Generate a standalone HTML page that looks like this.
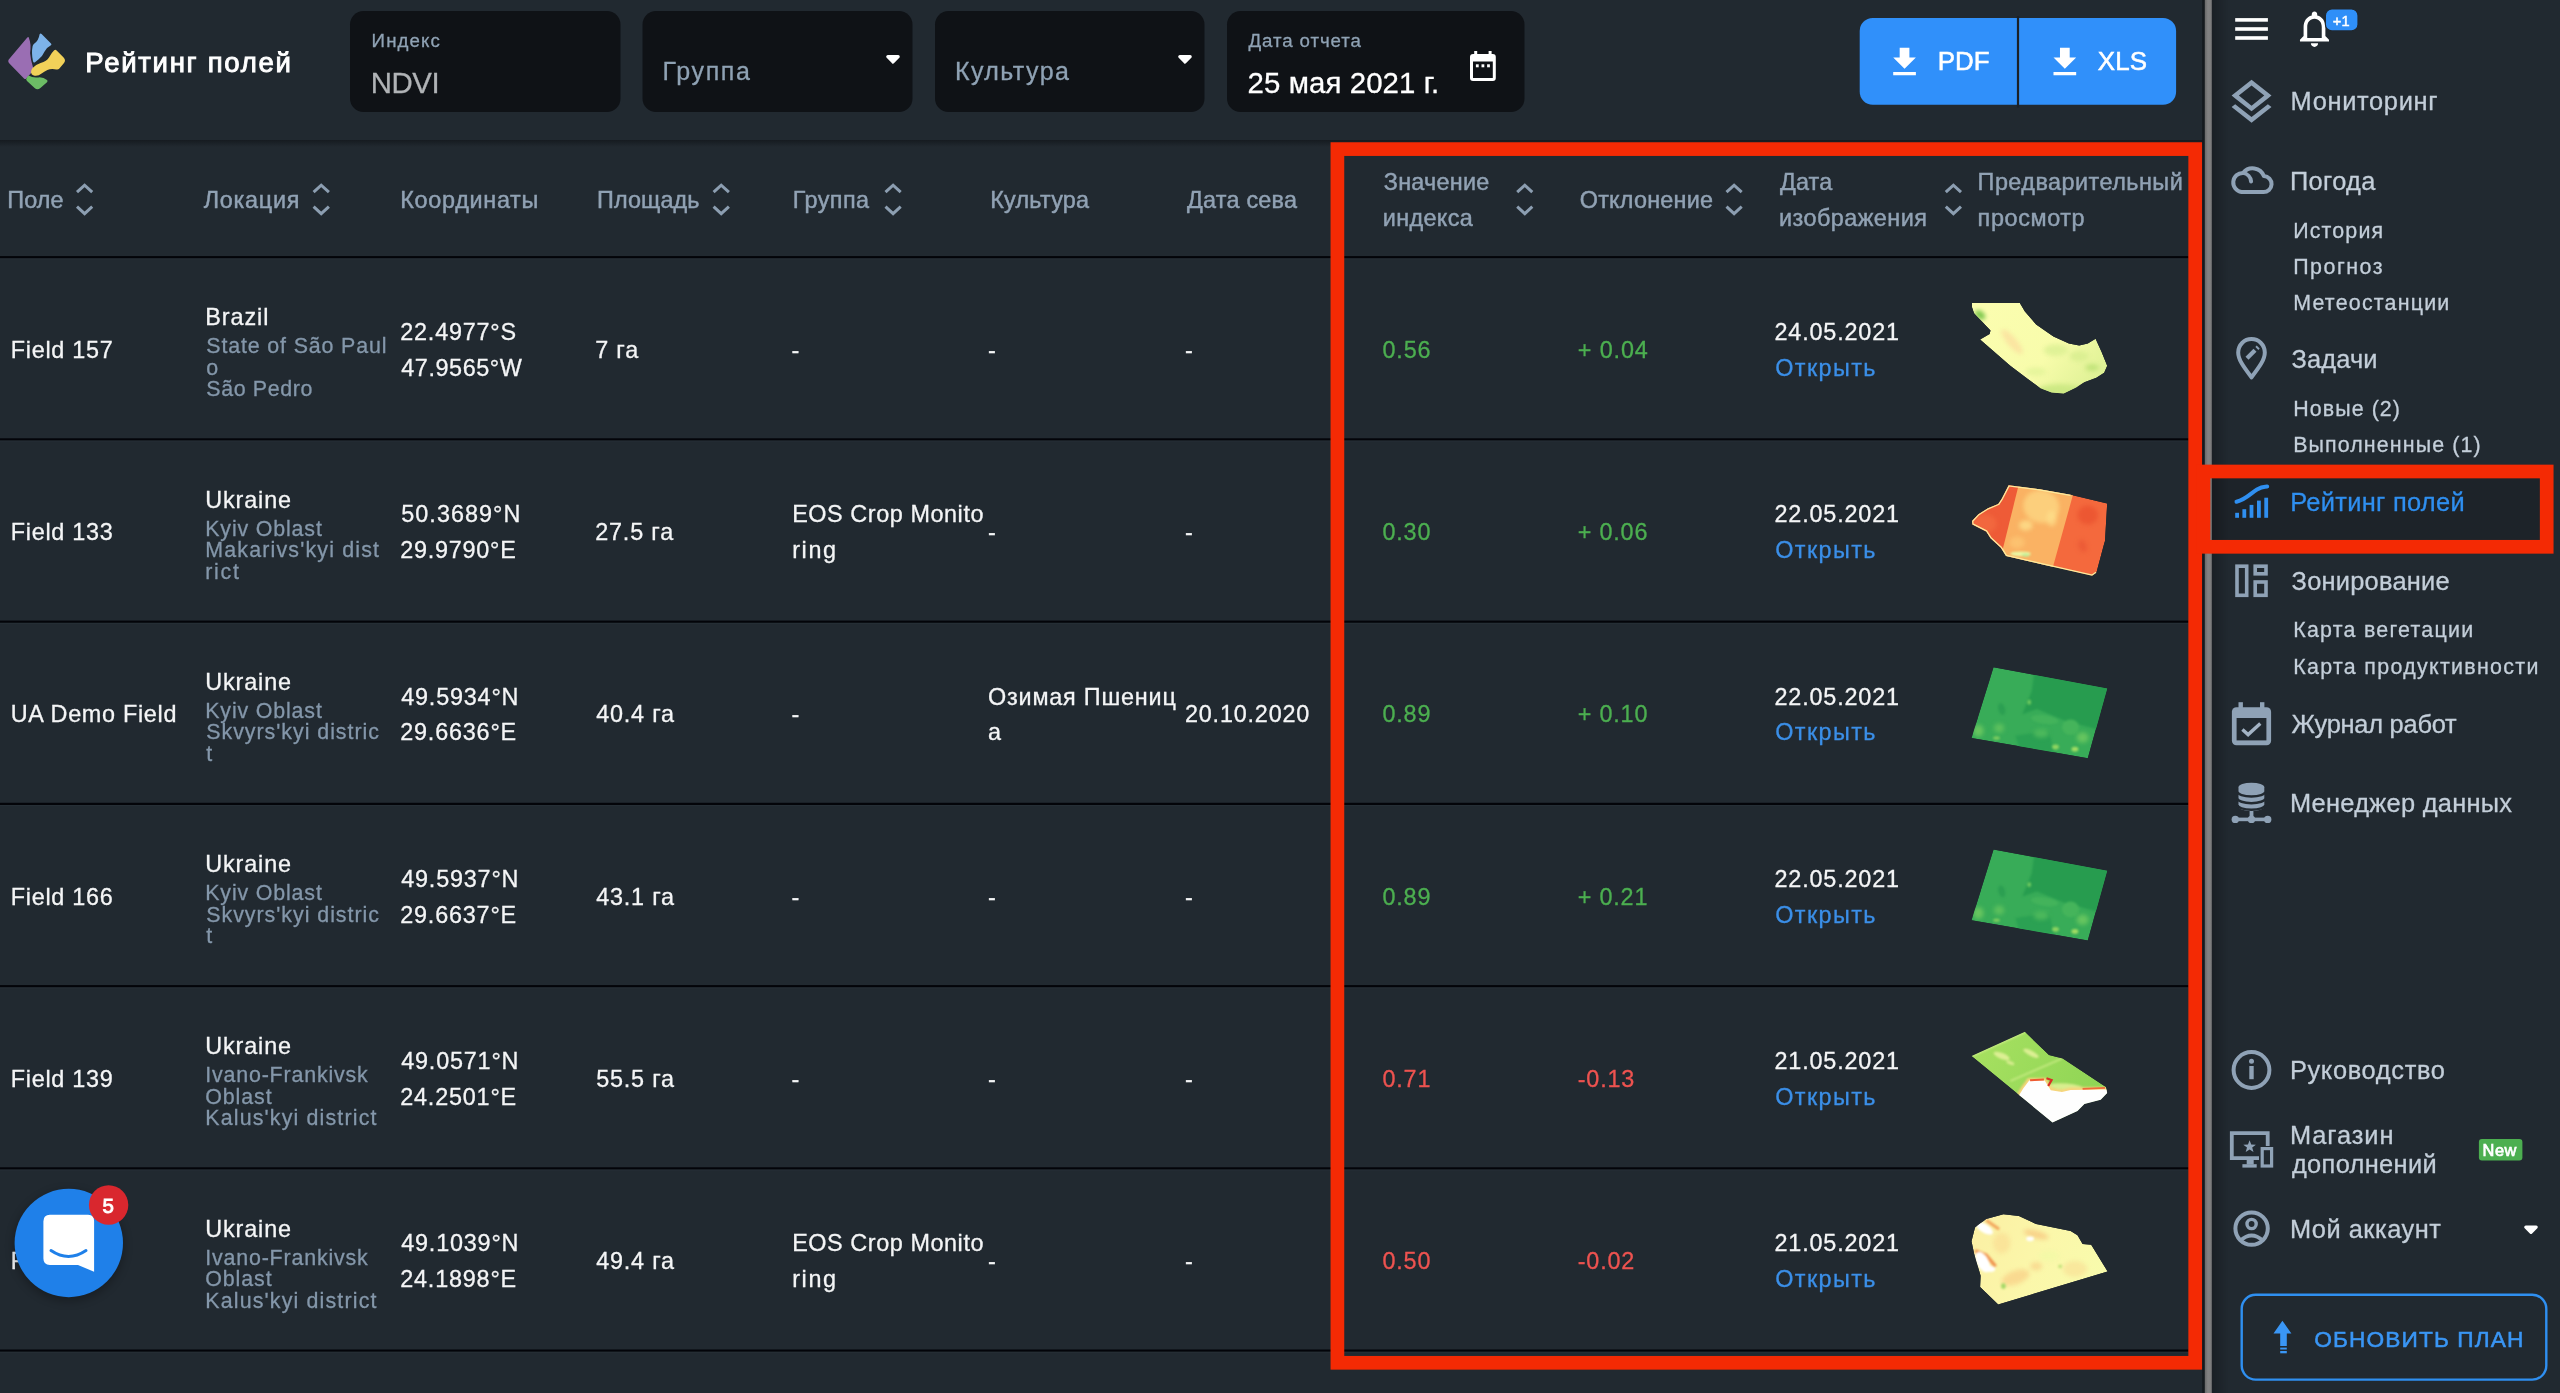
<!DOCTYPE html>
<html lang="ru"><head><meta charset="utf-8"><title>Рейтинг полей</title>
<style>
html,body{margin:0;padding:0}
body{width:2560px;height:1393px;overflow:hidden;background:#212930;font-family:"Liberation Sans",sans-serif;position:relative}
.t{position:absolute;white-space:pre;line-height:1;display:block}
.L{position:absolute;left:0;top:0;width:2560px;height:1393px;will-change:transform}
svg{position:absolute;overflow:visible}
</style></head>
<body>
<svg width="2560" height="1393" viewBox="0 0 2560 1393" style="left:0;top:0">
<defs><linearGradient id="hs" x1="0" y1="0" x2="0" y2="1"><stop offset="0" stop-color="#151a1f" stop-opacity=".95"/><stop offset="1" stop-color="#151a1f" stop-opacity="0"/></linearGradient></defs>
<rect x="0" y="140" width="2203" height="7" fill="url(#hs)"/>
<rect x="2211.8" y="470" width="338" height="78" fill="#1d2329"/>
<rect x="350" y="11" width="270.5" height="101" rx="13.5" fill="#0f1216"/>
<rect x="642.5" y="11" width="270.0" height="101" rx="13.5" fill="#0f1216"/>
<rect x="935" y="11" width="269.5" height="101" rx="13.5" fill="#0f1216"/>
<rect x="1227" y="11" width="297.5" height="101" rx="13.5" fill="#0f1216"/>
<rect x="0" y="256.1" width="2188.5" height="2.2" fill="#030409"/><rect x="0" y="258.3" width="2188.5" height="1.2" fill="#283038" opacity=".7"/>
<rect x="0" y="438.3" width="2188.5" height="2.2" fill="#030409"/><rect x="0" y="440.5" width="2188.5" height="1.2" fill="#283038" opacity=".7"/>
<rect x="0" y="620.6" width="2188.5" height="2.2" fill="#030409"/><rect x="0" y="622.8" width="2188.5" height="1.2" fill="#283038" opacity=".7"/>
<rect x="0" y="802.8" width="2188.5" height="2.2" fill="#030409"/><rect x="0" y="805.0" width="2188.5" height="1.2" fill="#283038" opacity=".7"/>
<rect x="0" y="985.1" width="2188.5" height="2.2" fill="#030409"/><rect x="0" y="987.3" width="2188.5" height="1.2" fill="#283038" opacity=".7"/>
<rect x="0" y="1167.3" width="2188.5" height="2.2" fill="#030409"/><rect x="0" y="1169.5" width="2188.5" height="1.2" fill="#283038" opacity=".7"/>
<rect x="0" y="1349.5" width="2188.5" height="2.2" fill="#030409"/><rect x="0" y="1351.7" width="2188.5" height="1.2" fill="#283038" opacity=".7"/>
<rect x="1859.7" y="18" width="316.4" height="86.8" rx="13" fill="#3090fa"/>
<rect x="2016.9" y="16" width="2.2" height="91.5" fill="#1b2127"/>
<path transform="translate(1885.1 42.9) scale(1.62)" fill="#fff" d="M19 9h-4V3H9v6H5l7 7 7-7zM5 18v2h14v-2H5z"/>
<path transform="translate(2045.4 42.9) scale(1.62)" fill="#fff" d="M19 9h-4V3H9v6H5l7 7 7-7zM5 18v2h14v-2H5z"/>
<path d="M887.8 56.7 H898.2 L893 62 Z" fill="#fff" stroke="#fff" stroke-width="3.2" stroke-linejoin="round"/>
<path d="M1179.8 56.7 H1190.2 L1185 62 Z" fill="#fff" stroke="#fff" stroke-width="3.2" stroke-linejoin="round"/>
<path d="M2525.8 1227.1 H2536.2 L2531 1232.3 Z" fill="#fff" stroke="#fff" stroke-width="3.2" stroke-linejoin="round"/>
<g fill="#fff"><rect x="1470" y="54" width="25.8" height="27" rx="3"/><rect x="1474.2" y="51" width="3" height="6"/><rect x="1488.6" y="51" width="3" height="6"/></g>
<rect x="1473" y="61.5" width="19.8" height="16.5" fill="#0f1216"/>
<rect x="1475.8999999999999" y="64.3" width="2.8" height="3" fill="#fff"/>
<rect x="1481.5" y="64.3" width="2.8" height="3" fill="#fff"/>
<rect x="1487.1" y="64.3" width="2.8" height="3" fill="#fff"/>
<path d="M9.6 58.6 L27.3 37.6 Q28.6 36.2 29 38.2 Q31.4 44 30.1 53 Q30.6 60 33.2 68 Q33.8 69.8 32.6 71.2 L26.3 78.5 Q25.2 79.6 24 78.4 L9.4 63.6 Q7 61 9.6 58.6 Z" fill="#9a6eb3"/>
<path d="M39.6 34.2 Q40.4 32.8 41.6 34 L51 43.6 Q52.2 44.8 50.6 45.6 Q46.5 47.6 44.6 51.6 Q42.4 56.6 38.4 59.6 L35 62.2 Q33.4 63.2 33 61.2 Q31.2 53 32.6 46.2 Q32.9 44.6 34.4 43.6 Q38.6 40.4 39.6 34.2 Z" fill="#7db3e9"/>
<path d="M54.2 50.3 Q55.4 49.2 56.6 50.4 L63.6 57.4 Q66.4 60.4 63.6 63.6 L59.4 68.4 Q58.2 69.8 56.4 69.4 Q51 68.2 47.4 70 Q44 71.6 41.6 73.6 Q38 76.6 33.8 75.6 Q31.4 74.9 31 72.6 Q30.6 70.4 32.6 68 Q35.6 64.6 40.6 63 Q46.8 61 49 57.4 Q51.2 53.2 54.2 50.3 Z" fill="#f1d159"/>
<path d="M28.6 75.6 Q33 78.2 38.4 77.4 Q43.4 77 47 80 Q48.2 81 47 82.2 L40.4 88 Q37.4 90.4 34.6 88 L27 81 Q25.4 79.4 26.8 77.4 Z" fill="#6cbc65"/>
<g fill="none" stroke="#8c9eb1" stroke-width="3">
<path d="M77.0 192.2 L84.6 185.2 L92.2 192.2" /><path d="M77.0 206.6 L84.6 213.6 L92.2 206.6" />
<path d="M313.6 192.2 L321.2 185.2 L328.9 192.2" /><path d="M313.6 206.6 L321.2 213.6 L328.9 206.6" />
<path d="M713.6 192.2 L721.2 185.2 L728.9 192.2" /><path d="M713.6 206.6 L721.2 213.6 L728.9 206.6" />
<path d="M885.5 192.2 L893.1 185.2 L900.7 192.2" /><path d="M885.5 206.6 L893.1 213.6 L900.7 206.6" />
<path d="M1517.2 192.2 L1524.8 185.2 L1532.3 192.2" /><path d="M1517.2 206.6 L1524.8 213.6 L1532.3 206.6" />
<path d="M1726.5 192.2 L1734.1 185.2 L1741.7 192.2" /><path d="M1726.5 206.6 L1734.1 213.6 L1741.7 206.6" />
<path d="M1945.8 192.2 L1953.4 185.2 L1961.0 192.2" /><path d="M1945.8 206.6 L1953.4 213.6 L1961.0 206.6" />
</g>
<defs><filter id="b2" color-interpolation-filters="sRGB" x="-20%" y="-20%" width="140%" height="140%"><feGaussianBlur stdDeviation="2"/></filter><filter id="b1" color-interpolation-filters="sRGB" x="-20%" y="-20%" width="140%" height="140%"><feGaussianBlur stdDeviation="1"/></filter><filter id="b05" color-interpolation-filters="sRGB" x="-20%" y="-20%" width="140%" height="140%"><feGaussianBlur stdDeviation="0.6"/></filter><linearGradient id="g1" gradientUnits="userSpaceOnUse" x1="1985" y1="310" x2="2095" y2="395"><stop offset="0" stop-color="#fbfdaf"/><stop offset="0.55" stop-color="#f8fcab"/><stop offset="1" stop-color="#dbf092"/></linearGradient><clipPath id="c1"><polygon points="1972.0,302.9 2019.8,302.9 2024.9,311.5 2036.1,324.5 2053.4,336.5 2068.9,343.4 2079.2,345.6 2087.8,343.4 2095.6,338.7 2101.6,352.0 2107.2,365.8 2104.2,372.7 2096.4,377.8 2084.4,382.2 2076.6,387.3 2063.7,393.4 2051.6,392.5 2040.4,388.2 2027.5,378.7 2010.3,365.8 1980.1,339.5 1989.6,333.9 1990.5,330.5 1974.1,313.3 1972.0,307.2"/></clipPath><clipPath id="c2"><polygon points="2008.6,485.3 2039.6,489.2 2070.6,494.8 2107.2,503.4 2105.0,540.9 2104.2,543.5 2096.4,572.8 2092.1,575.8 2044.7,565.0 2006.0,556.0 2000.8,547.8 1990.5,538.3 1986.2,531.4 1972.4,524.5 1972.0,521.1 1978.4,514.2 1987.9,508.2 1998.2,503.9 2001.7,498.7"/></clipPath><clipPath id="c30"><polygon points="1993.5,667.3 2107.2,688.5 2087.8,758.2 1971.5,738.0"/></clipPath><clipPath id="c31"><polygon points="1993.5,849.6 2107.2,870.7 2087.8,940.5 1971.5,920.2"/></clipPath><clipPath id="c5"><polygon points="1971.5,1055.9 2024.9,1031.8 2049.0,1055.0 2062.8,1058.5 2105.9,1086.9 2107.2,1092.9 2100.7,1099.8 2084.4,1104.1 2077.5,1111.0 2052.5,1122.6"/></clipPath><linearGradient id="g5" gradientUnits="userSpaceOnUse" x1="1980" y1="1040" x2="2100" y2="1095"><stop offset="0" stop-color="#a6e060"/><stop offset="1" stop-color="#8fd555"/></linearGradient><clipPath id="c6"><polygon points="2003.4,1214.2 2018.9,1215.9 2036.1,1224.1 2070.6,1231.0 2077.5,1235.3 2082.6,1243.9 2091.2,1244.8 2107.6,1271.5 1998.2,1304.6 1980.1,1287.0 1980.6,1275.8 1974.1,1253.4 1971.5,1241.3 1975.0,1227.6 1986.2,1218.9"/></clipPath><linearGradient id="g6" gradientUnits="userSpaceOnUse" x1="1975" y1="1230" x2="2100" y2="1290"><stop offset="0" stop-color="#fbf0a4"/><stop offset="0.5" stop-color="#fbf7aa"/><stop offset="1" stop-color="#f8fbac"/></linearGradient></defs><g clip-path="url(#c1)"><polygon points="1972.0,302.9 2019.8,302.9 2024.9,311.5 2036.1,324.5 2053.4,336.5 2068.9,343.4 2079.2,345.6 2087.8,343.4 2095.6,338.7 2101.6,352.0 2107.2,365.8 2104.2,372.7 2096.4,377.8 2084.4,382.2 2076.6,387.3 2063.7,393.4 2051.6,392.5 2040.4,388.2 2027.5,378.7 2010.3,365.8 1980.1,339.5 1989.6,333.9 1990.5,330.5 1974.1,313.3 1972.0,307.2" fill="url(#g1)"/><g filter="url(#b2)"><ellipse cx="1980.1" cy="315.0" rx="6.0" ry="3.9" fill="#7fc84e" transform="rotate(40 1980.1 315.0)"/><ellipse cx="2012.0" cy="341.7" rx="15.5" ry="4.7" fill="#fbe2a0" transform="rotate(50 2012.0 341.7)" opacity="0.9"/><ellipse cx="2055.9" cy="350.3" rx="12.1" ry="6.0" fill="#e0f297"/><ellipse cx="2079.2" cy="356.3" rx="9.5" ry="5.2" fill="#dbef92"/><ellipse cx="2092.1" cy="367.5" rx="6.9" ry="3.4" fill="#c2e47b"/><ellipse cx="2060.2" cy="389.9" rx="22.4" ry="6.0" fill="#cde984"/><ellipse cx="2036.1" cy="371.8" rx="10.3" ry="4.3" fill="#e6f59c"/></g></g><g clip-path="url(#c2)"><polygon points="2008.6,485.3 2039.6,489.2 2070.6,494.8 2107.2,503.4 2105.0,540.9 2104.2,543.5 2096.4,572.8 2092.1,575.8 2044.7,565.0 2006.0,556.0 2000.8,547.8 1990.5,538.3 1986.2,531.4 1972.4,524.5 1972.0,521.1 1978.4,514.2 1987.9,508.2 1998.2,503.9 2001.7,498.7" fill="#f4693d"/><g filter="url(#b05)"><polygon points="1967.2,480.6 2018.9,484.1 2000.8,557.3 1967.2,558.1" fill="#ee5b37"/><polygon points="2018.9,484.1 2073.2,494.0 2052.5,568.5 2000.8,557.3" fill="#fab263"/></g><g filter="url(#b2)"><ellipse cx="1984.5" cy="523.7" rx="12.1" ry="9.5" fill="#f26a40" opacity="0.8"/><ellipse cx="2041.3" cy="506.5" rx="18.1" ry="16.4" fill="#fdd682" transform="rotate(15 2041.3 506.5)" opacity="0.8"/><ellipse cx="2025.8" cy="525.4" rx="6.9" ry="5.2" fill="#fde08c" opacity="0.8"/><ellipse cx="2051.6" cy="518.5" rx="5.2" ry="7.8" fill="#fde08c" opacity="0.7"/><ellipse cx="2017.2" cy="542.6" rx="7.8" ry="6.0" fill="#fcc673" opacity="0.8"/><ellipse cx="2087.8" cy="515.1" rx="10.3" ry="9.5" fill="#e9512f" opacity="0.75"/><ellipse cx="2082.6" cy="546.1" rx="3.9" ry="6.5" fill="#ea5735" transform="rotate(-20 2082.6 546.1)" opacity="0.8"/></g><g filter="url(#b1)"><ellipse cx="2020.6" cy="553.8" rx="10.3" ry="2.4" fill="#e9f7a3"/><ellipse cx="2025.8" cy="555.1" rx="3.9" ry="1.6" fill="#bfee98"/></g><polyline points="2070.6,494.8 2039.6,489.2 2008.6,485.3 2001.7,498.7 1998.2,503.9 1987.9,508.2 1978.4,514.2 1972.0,521.1 1972.4,524.5 1986.2,531.4 1990.5,538.3 2000.8,547.8 2006.0,556.0 2044.7,565.0 2092.1,575.8 2096.4,572.8" fill="none" stroke="#fbeb9e" stroke-width="2.6" stroke-linejoin="round"/></g><g clip-path="url(#c30)"><polygon points="1993.5,667.3 2107.2,688.5 2087.8,758.2 1971.5,738.0" fill="#38ac58"/><g filter="url(#b1)"><polygon points="2034.4,671.2 2109.3,686.7 2098.1,729.8 2063.7,720.3 2037.0,709.1 2022.3,714.3 2031.8,691.0" fill="#279c4f"/><polygon points="2015.5,735.8 2049.0,730.7 2054.2,752.2 2018.9,747.9" fill="#2ba153"/><ellipse cx="2001.7" cy="709.1" rx="3.4" ry="6.0" fill="#2c9f52" transform="rotate(-15 2001.7 709.1)"/><ellipse cx="2044.7" cy="719.5" rx="13.8" ry="4.3" fill="#43b35b" transform="rotate(8 2044.7 719.5)"/><ellipse cx="2070.6" cy="727.2" rx="8.6" ry="7.8" fill="#45b45b"/></g><g filter="url(#b2)"><ellipse cx="1978.4" cy="730.7" rx="5.2" ry="6.0" fill="#68c65f"/><ellipse cx="1999.1" cy="728.1" rx="5.2" ry="4.7" fill="#5cc05d"/><ellipse cx="2082.6" cy="737.5" rx="6.0" ry="5.2" fill="#66c55f"/><ellipse cx="2041.3" cy="733.2" rx="7.8" ry="4.3" fill="#4db95c"/></g><g filter="url(#b1)"><ellipse cx="2074.9" cy="749.2" rx="3.4" ry="2.4" fill="#a2dc63"/><ellipse cx="2055.5" cy="747.0" rx="3.4" ry="2.4" fill="#8ed460"/><ellipse cx="1996.5" cy="738.0" rx="3.4" ry="1.7" fill="#80ce5f"/><ellipse cx="2029.2" cy="702.2" rx="1.9" ry="2.6" fill="#6ec95f"/></g></g><g clip-path="url(#c31)"><polygon points="1993.5,849.6 2107.2,870.7 2087.8,940.5 1971.5,920.2" fill="#38ac58"/><g filter="url(#b1)"><polygon points="2034.4,853.5 2109.3,869.0 2098.1,912.0 2063.7,902.6 2037.0,891.4 2022.3,896.5 2031.8,873.3" fill="#279c4f"/><polygon points="2015.5,918.1 2049.0,912.9 2054.2,934.4 2018.9,930.1" fill="#2ba153"/><ellipse cx="2001.7" cy="891.4" rx="3.4" ry="6.0" fill="#2c9f52" transform="rotate(-15 2001.7 891.4)"/><ellipse cx="2044.7" cy="901.7" rx="13.8" ry="4.3" fill="#43b35b" transform="rotate(8 2044.7 901.7)"/><ellipse cx="2070.6" cy="909.4" rx="8.6" ry="7.8" fill="#45b45b"/></g><g filter="url(#b2)"><ellipse cx="1978.4" cy="912.9" rx="5.2" ry="6.0" fill="#68c65f"/><ellipse cx="1999.1" cy="910.3" rx="5.2" ry="4.7" fill="#5cc05d"/><ellipse cx="2082.6" cy="919.8" rx="6.0" ry="5.2" fill="#66c55f"/><ellipse cx="2041.3" cy="915.5" rx="7.8" ry="4.3" fill="#4db95c"/></g><g filter="url(#b1)"><ellipse cx="2074.9" cy="931.4" rx="3.4" ry="2.4" fill="#a2dc63"/><ellipse cx="2055.5" cy="929.3" rx="3.4" ry="2.4" fill="#8ed460"/><ellipse cx="1996.5" cy="920.2" rx="3.4" ry="1.7" fill="#80ce5f"/><ellipse cx="2029.2" cy="884.5" rx="1.9" ry="2.6" fill="#6ec95f"/></g></g><g clip-path="url(#c5)"><polygon points="1971.5,1055.9 2024.9,1031.8 2049.0,1055.0 2062.8,1058.5 2105.9,1086.9 2107.2,1092.9 2100.7,1099.8 2084.4,1104.1 2077.5,1111.0 2052.5,1122.6" fill="url(#g5)"/><g filter="url(#b1)"><ellipse cx="2001.7" cy="1055.9" rx="8.6" ry="3.0" fill="#dcef93" transform="rotate(22 2001.7 1055.9)"/><ellipse cx="2010.3" cy="1062.8" rx="4.3" ry="1.7" fill="#d6ec8e" transform="rotate(22 2010.3 1062.8)"/><ellipse cx="2031.0" cy="1053.3" rx="8.6" ry="2.6" fill="#dcef93" transform="rotate(28 2031.0 1053.3)"/><ellipse cx="2066.3" cy="1086.9" rx="17.2" ry="3.4" fill="#d8ee8e" transform="rotate(5 2066.3 1086.9)"/><line x1="2010.3" y1="1080.9" x2="2062.0" y2="1058.5" stroke="#c9ec84" stroke-width="1.6"/><line x1="1971.5" y1="1055.9" x2="2024.9" y2="1031.8" stroke="#d4f090" stroke-width="2"/><polyline points="2018.9,1095.5 2023.2,1088.6 2029.2,1080.4 2044.7,1080.4 2050.8,1090.3 2062.0,1092.1 2070.6,1089.9 2107.6,1089.5" fill="none" stroke="#f8d47c" stroke-width="5"/></g><polygon points="2018.9,1095.5 2023.2,1088.6 2029.2,1080.4 2044.7,1080.4 2050.8,1090.3 2062.0,1092.1 2070.6,1089.9 2107.6,1089.5 2107.6,1130.0 2044.7,1130.0" fill="#fefefe"/><g filter="url(#b05)"><polyline points="2030.1,1080.2 2043.9,1079.6" fill="none" stroke="#ee5a32" stroke-width="2"/><polyline points="2046.5,1078.3 2051.6,1080.0 2048.2,1086.0" fill="none" stroke="#d92f25" stroke-width="2.2"/><polyline points="2082.6,1088.8 2105.0,1087.9" fill="none" stroke="#ef6a3a" stroke-width="1.8"/></g></g><g clip-path="url(#c6)"><polygon points="2003.4,1214.2 2018.9,1215.9 2036.1,1224.1 2070.6,1231.0 2077.5,1235.3 2082.6,1243.9 2091.2,1244.8 2107.6,1271.5 1998.2,1304.6 1980.1,1287.0 1980.6,1275.8 1974.1,1253.4 1971.5,1241.3 1975.0,1227.6 1986.2,1218.9" fill="url(#g6)"/><g filter="url(#b2)"><ellipse cx="2015.5" cy="1277.5" rx="14.6" ry="6.9" fill="#f8c880" transform="rotate(-20 2015.5 1277.5)" opacity="0.6"/><ellipse cx="2036.1" cy="1234.5" rx="12.9" ry="3.9" fill="#f6bd76" transform="rotate(15 2036.1 1234.5)" opacity="0.6"/><ellipse cx="2074.9" cy="1268.9" rx="12.1" ry="7.8" fill="#f9dc92" opacity="0.6"/><ellipse cx="2001.7" cy="1243.1" rx="8.6" ry="10.3" fill="#f9d58c" opacity="0.5"/><ellipse cx="2049.0" cy="1256.0" rx="10.3" ry="5.2" fill="#f3f9a6" opacity="0.8"/><ellipse cx="2036.1" cy="1266.3" rx="6.0" ry="4.3" fill="#f7c37c" opacity="0.5"/></g><g filter="url(#b1)"><polyline points="1975.0,1250.8 1986.2,1255.1 1995.6,1266.3" fill="none" stroke="#f0934f" stroke-width="3.4"/><polyline points="1986.2,1220.2 1999.1,1229.3" fill="none" stroke="#f2a55c" stroke-width="3"/><ellipse cx="1984.5" cy="1228.4" rx="9.5" ry="4.3" fill="#ffffff" transform="rotate(32 1984.5 1228.4)"/><ellipse cx="1982.7" cy="1262.0" rx="6.0" ry="11.2" fill="#ffffff" transform="rotate(-28 1982.7 1262.0)"/><ellipse cx="1990.5" cy="1268.9" rx="4.7" ry="3.0" fill="#ffffff"/><ellipse cx="2030.1" cy="1238.8" rx="3.9" ry="2.4" fill="#ffffff"/><ellipse cx="2003.4" cy="1286.1" rx="2.4" ry="2.8" fill="#a5d868"/><ellipse cx="2060.2" cy="1266.3" rx="1.9" ry="1.9" fill="#c2e27b"/></g></g>
</svg>
<div class="L">
<span class="t" style="left:85.30px;top:48.94px;font-size:27.6px;color:#ffffff;letter-spacing:1.67px;-webkit-text-stroke:0.9px #ffffff">Рейтинг полей</span>
<span class="t" style="left:371.60px;top:31.77px;font-size:18.7px;color:#8fa2b4;letter-spacing:1.11px;-webkit-text-stroke:0.3px #8fa2b4">Индекс</span>
<span class="t" style="left:370.80px;top:67.71px;font-size:29.4px;color:#b0b3b6;letter-spacing:-0.45px;-webkit-text-stroke:0.3px #b0b3b6">NDVI</span>
<span class="t" style="left:662.50px;top:59.04px;font-size:25px;color:#8fa2b4;letter-spacing:1.63px;-webkit-text-stroke:0.3px #8fa2b4">Группа</span>
<span class="t" style="left:955.00px;top:59.04px;font-size:25px;color:#8fa2b4;letter-spacing:1.42px;-webkit-text-stroke:0.3px #8fa2b4">Культура</span>
<span class="t" style="left:1248.50px;top:31.77px;font-size:18.7px;color:#8fa2b4;letter-spacing:0.90px;-webkit-text-stroke:0.3px #8fa2b4">Дата отчета</span>
<span class="t" style="left:1247.50px;top:67.71px;font-size:29.4px;color:#ffffff;letter-spacing:0.10px;-webkit-text-stroke:0.3px #ffffff">25 мая 2021 г.</span>
<span class="t" style="left:1937.70px;top:49.38px;font-size:25.9px;color:#ffffff;letter-spacing:0.02px;-webkit-text-stroke:0.55px #ffffff">PDF</span>
<span class="t" style="left:2097.80px;top:49.38px;font-size:25.9px;color:#ffffff;letter-spacing:0.17px;-webkit-text-stroke:0.55px #ffffff">XLS</span>
<span class="t" style="left:7.25px;top:188.89px;font-size:23.4px;color:#91a2b4;letter-spacing:0.10px;-webkit-text-stroke:0.45px #91a2b4">Поле</span>
<span class="t" style="left:203.75px;top:188.89px;font-size:23.4px;color:#91a2b4;letter-spacing:0.74px;-webkit-text-stroke:0.45px #91a2b4">Локация</span>
<span class="t" style="left:400.25px;top:188.89px;font-size:23.4px;color:#91a2b4;letter-spacing:0.70px;-webkit-text-stroke:0.45px #91a2b4">Координаты</span>
<span class="t" style="left:597.00px;top:188.89px;font-size:23.4px;color:#91a2b4;letter-spacing:0.10px;-webkit-text-stroke:0.45px #91a2b4">Площадь</span>
<span class="t" style="left:792.75px;top:188.89px;font-size:23.4px;color:#91a2b4;letter-spacing:0.42px;-webkit-text-stroke:0.45px #91a2b4">Группа</span>
<span class="t" style="left:990.25px;top:188.89px;font-size:23.4px;color:#91a2b4;letter-spacing:0.22px;-webkit-text-stroke:0.45px #91a2b4">Культура</span>
<span class="t" style="left:1187.00px;top:188.89px;font-size:23.4px;color:#91a2b4;letter-spacing:0.23px;-webkit-text-stroke:0.45px #91a2b4">Дата сева</span>
<span class="t" style="left:1383.75px;top:171.39px;font-size:23.4px;color:#91a2b4;letter-spacing:0.25px;-webkit-text-stroke:0.45px #91a2b4">Значение</span>
<span class="t" style="left:1382.75px;top:207.09px;font-size:23.4px;color:#91a2b4;letter-spacing:0.36px;-webkit-text-stroke:0.45px #91a2b4">индекса</span>
<span class="t" style="left:1579.75px;top:188.89px;font-size:23.4px;color:#91a2b4;letter-spacing:0.22px;-webkit-text-stroke:0.45px #91a2b4">Отклонение</span>
<span class="t" style="left:1780.00px;top:171.39px;font-size:23.4px;color:#91a2b4;letter-spacing:0.14px;-webkit-text-stroke:0.45px #91a2b4">Дата</span>
<span class="t" style="left:1779.00px;top:207.09px;font-size:23.4px;color:#91a2b4;letter-spacing:0.46px;-webkit-text-stroke:0.45px #91a2b4">изображения</span>
<span class="t" style="left:1977.60px;top:171.39px;font-size:23.4px;color:#91a2b4;letter-spacing:0.47px;-webkit-text-stroke:0.45px #91a2b4">Предварительный</span>
<span class="t" style="left:1977.60px;top:207.09px;font-size:23.4px;color:#91a2b4;letter-spacing:0.62px;-webkit-text-stroke:0.45px #91a2b4">просмотр</span>
<span class="t" style="left:10.75px;top:338.79px;font-size:23.4px;color:#f4f5f6;letter-spacing:0.72px;-webkit-text-stroke:0.3px #f4f5f6">Field 157</span>
<span class="t" style="left:205.25px;top:306.39px;font-size:23.4px;color:#f4f5f6;letter-spacing:0.94px;-webkit-text-stroke:0.3px #f4f5f6">Brazil</span>
<span class="t" style="left:206.25px;top:336.43px;font-size:21.4px;color:#8497aa;letter-spacing:0.86px;-webkit-text-stroke:0.3px #8497aa">State of São Paul</span>
<span class="t" style="left:206.25px;top:357.93px;font-size:21.4px;color:#8497aa;letter-spacing:0.90px;-webkit-text-stroke:0.3px #8497aa">o</span>
<span class="t" style="left:206.25px;top:379.43px;font-size:21.4px;color:#8497aa;letter-spacing:0.63px;-webkit-text-stroke:0.3px #8497aa">São Pedro</span>
<span class="t" style="left:400.25px;top:321.09px;font-size:23.4px;color:#f4f5f6;letter-spacing:0.79px;-webkit-text-stroke:0.3px #f4f5f6">22.4977°S</span>
<span class="t" style="left:401.25px;top:356.89px;font-size:23.4px;color:#f4f5f6;letter-spacing:0.57px;-webkit-text-stroke:0.3px #f4f5f6">47.9565°W</span>
<span class="t" style="left:595.20px;top:338.79px;font-size:23.4px;color:#f4f5f6;letter-spacing:0.83px;-webkit-text-stroke:0.3px #f4f5f6">7 га</span>
<span class="t" style="left:791.50px;top:338.79px;font-size:23.4px;color:#f4f5f6;letter-spacing:0.00px;-webkit-text-stroke:0.3px #f4f5f6">-</span>
<span class="t" style="left:988.00px;top:338.79px;font-size:23.4px;color:#f4f5f6;letter-spacing:0.00px;-webkit-text-stroke:0.3px #f4f5f6">-</span>
<span class="t" style="left:1185.00px;top:338.79px;font-size:23.4px;color:#f4f5f6;letter-spacing:0.00px;-webkit-text-stroke:0.3px #f4f5f6">-</span>
<span class="t" style="left:1382.50px;top:338.79px;font-size:23.4px;color:#4caf50;letter-spacing:0.83px;-webkit-text-stroke:0.3px #4caf50">0.56</span>
<span class="t" style="left:1577.75px;top:338.79px;font-size:23.4px;color:#4caf50;letter-spacing:0.87px;-webkit-text-stroke:0.3px #4caf50">+ 0.04</span>
<span class="t" style="left:1774.50px;top:321.09px;font-size:23.4px;color:#f4f5f6;letter-spacing:0.83px;-webkit-text-stroke:0.3px #f4f5f6">24.05.2021</span>
<span class="t" style="left:1775.25px;top:356.89px;font-size:23.4px;color:#3b8fe8;letter-spacing:1.39px;-webkit-text-stroke:0.3px #3b8fe8">Открыть</span>
<span class="t" style="left:10.75px;top:521.03px;font-size:23.4px;color:#f4f5f6;letter-spacing:0.72px;-webkit-text-stroke:0.3px #f4f5f6">Field 133</span>
<span class="t" style="left:205.25px;top:488.63px;font-size:23.4px;color:#f4f5f6;letter-spacing:0.86px;-webkit-text-stroke:0.3px #f4f5f6">Ukraine</span>
<span class="t" style="left:205.25px;top:518.67px;font-size:21.4px;color:#8497aa;letter-spacing:0.84px;-webkit-text-stroke:0.3px #8497aa">Kyiv Oblast</span>
<span class="t" style="left:205.25px;top:540.17px;font-size:21.4px;color:#8497aa;letter-spacing:1.17px;-webkit-text-stroke:0.3px #8497aa">Makarivs'kyi dist</span>
<span class="t" style="left:205.25px;top:561.67px;font-size:21.4px;color:#8497aa;letter-spacing:1.74px;-webkit-text-stroke:0.3px #8497aa">rict</span>
<span class="t" style="left:401.25px;top:503.33px;font-size:23.4px;color:#f4f5f6;letter-spacing:1.04px;-webkit-text-stroke:0.3px #f4f5f6">50.3689°N</span>
<span class="t" style="left:400.25px;top:539.13px;font-size:23.4px;color:#f4f5f6;letter-spacing:0.76px;-webkit-text-stroke:0.3px #f4f5f6">29.9790°E</span>
<span class="t" style="left:595.20px;top:521.03px;font-size:23.4px;color:#f4f5f6;letter-spacing:0.83px;-webkit-text-stroke:0.3px #f4f5f6">27.5 га</span>
<span class="t" style="left:792.20px;top:503.33px;font-size:23.4px;color:#f4f5f6;letter-spacing:0.57px;-webkit-text-stroke:0.3px #f4f5f6">EOS Crop Monito</span>
<span class="t" style="left:792.20px;top:539.13px;font-size:23.4px;color:#f4f5f6;letter-spacing:1.64px;-webkit-text-stroke:0.3px #f4f5f6">ring</span>
<span class="t" style="left:988.00px;top:521.03px;font-size:23.4px;color:#f4f5f6;letter-spacing:0.00px;-webkit-text-stroke:0.3px #f4f5f6">-</span>
<span class="t" style="left:1185.00px;top:521.03px;font-size:23.4px;color:#f4f5f6;letter-spacing:0.00px;-webkit-text-stroke:0.3px #f4f5f6">-</span>
<span class="t" style="left:1382.50px;top:521.03px;font-size:23.4px;color:#4caf50;letter-spacing:0.80px;-webkit-text-stroke:0.3px #4caf50">0.30</span>
<span class="t" style="left:1577.75px;top:521.03px;font-size:23.4px;color:#4caf50;letter-spacing:0.80px;-webkit-text-stroke:0.3px #4caf50">+ 0.06</span>
<span class="t" style="left:1774.50px;top:503.33px;font-size:23.4px;color:#f4f5f6;letter-spacing:0.83px;-webkit-text-stroke:0.3px #f4f5f6">22.05.2021</span>
<span class="t" style="left:1775.25px;top:539.13px;font-size:23.4px;color:#3b8fe8;letter-spacing:1.39px;-webkit-text-stroke:0.3px #3b8fe8">Открыть</span>
<span class="t" style="left:10.75px;top:703.27px;font-size:23.4px;color:#f4f5f6;letter-spacing:0.70px;-webkit-text-stroke:0.3px #f4f5f6">UA Demo Field</span>
<span class="t" style="left:205.25px;top:670.87px;font-size:23.4px;color:#f4f5f6;letter-spacing:0.86px;-webkit-text-stroke:0.3px #f4f5f6">Ukraine</span>
<span class="t" style="left:205.25px;top:700.91px;font-size:21.4px;color:#8497aa;letter-spacing:0.84px;-webkit-text-stroke:0.3px #8497aa">Kyiv Oblast</span>
<span class="t" style="left:206.25px;top:722.41px;font-size:21.4px;color:#8497aa;letter-spacing:0.97px;-webkit-text-stroke:0.3px #8497aa">Skvyrs'kyi distric</span>
<span class="t" style="left:206.25px;top:743.91px;font-size:21.4px;color:#8497aa;letter-spacing:0.90px;-webkit-text-stroke:0.3px #8497aa">t</span>
<span class="t" style="left:401.25px;top:685.57px;font-size:23.4px;color:#f4f5f6;letter-spacing:0.80px;-webkit-text-stroke:0.3px #f4f5f6">49.5934°N</span>
<span class="t" style="left:400.25px;top:721.37px;font-size:23.4px;color:#f4f5f6;letter-spacing:0.80px;-webkit-text-stroke:0.3px #f4f5f6">29.6636°E</span>
<span class="t" style="left:596.20px;top:703.27px;font-size:23.4px;color:#f4f5f6;letter-spacing:0.80px;-webkit-text-stroke:0.3px #f4f5f6">40.4 га</span>
<span class="t" style="left:791.50px;top:703.27px;font-size:23.4px;color:#f4f5f6;letter-spacing:0.00px;-webkit-text-stroke:0.3px #f4f5f6">-</span>
<span class="t" style="left:988.00px;top:685.57px;font-size:23.4px;color:#f4f5f6;letter-spacing:0.80px;-webkit-text-stroke:0.3px #f4f5f6">Озимая Пшениц</span>
<span class="t" style="left:988.00px;top:721.37px;font-size:23.4px;color:#f4f5f6;letter-spacing:0.80px;-webkit-text-stroke:0.3px #f4f5f6">а</span>
<span class="t" style="left:1185.00px;top:703.27px;font-size:23.4px;color:#f4f5f6;letter-spacing:0.80px;-webkit-text-stroke:0.3px #f4f5f6">20.10.2020</span>
<span class="t" style="left:1382.50px;top:703.27px;font-size:23.4px;color:#4caf50;letter-spacing:0.80px;-webkit-text-stroke:0.3px #4caf50">0.89</span>
<span class="t" style="left:1577.75px;top:703.27px;font-size:23.4px;color:#4caf50;letter-spacing:0.80px;-webkit-text-stroke:0.3px #4caf50">+ 0.10</span>
<span class="t" style="left:1774.50px;top:685.57px;font-size:23.4px;color:#f4f5f6;letter-spacing:0.83px;-webkit-text-stroke:0.3px #f4f5f6">22.05.2021</span>
<span class="t" style="left:1775.25px;top:721.37px;font-size:23.4px;color:#3b8fe8;letter-spacing:1.39px;-webkit-text-stroke:0.3px #3b8fe8">Открыть</span>
<span class="t" style="left:10.75px;top:885.51px;font-size:23.4px;color:#f4f5f6;letter-spacing:0.72px;-webkit-text-stroke:0.3px #f4f5f6">Field 166</span>
<span class="t" style="left:205.25px;top:853.11px;font-size:23.4px;color:#f4f5f6;letter-spacing:0.86px;-webkit-text-stroke:0.3px #f4f5f6">Ukraine</span>
<span class="t" style="left:205.25px;top:883.15px;font-size:21.4px;color:#8497aa;letter-spacing:0.84px;-webkit-text-stroke:0.3px #8497aa">Kyiv Oblast</span>
<span class="t" style="left:206.25px;top:904.65px;font-size:21.4px;color:#8497aa;letter-spacing:0.97px;-webkit-text-stroke:0.3px #8497aa">Skvyrs'kyi distric</span>
<span class="t" style="left:206.25px;top:926.15px;font-size:21.4px;color:#8497aa;letter-spacing:0.90px;-webkit-text-stroke:0.3px #8497aa">t</span>
<span class="t" style="left:401.25px;top:867.81px;font-size:23.4px;color:#f4f5f6;letter-spacing:0.80px;-webkit-text-stroke:0.3px #f4f5f6">49.5937°N</span>
<span class="t" style="left:400.25px;top:903.61px;font-size:23.4px;color:#f4f5f6;letter-spacing:0.80px;-webkit-text-stroke:0.3px #f4f5f6">29.6637°E</span>
<span class="t" style="left:596.20px;top:885.51px;font-size:23.4px;color:#f4f5f6;letter-spacing:0.80px;-webkit-text-stroke:0.3px #f4f5f6">43.1 га</span>
<span class="t" style="left:791.50px;top:885.51px;font-size:23.4px;color:#f4f5f6;letter-spacing:0.00px;-webkit-text-stroke:0.3px #f4f5f6">-</span>
<span class="t" style="left:988.00px;top:885.51px;font-size:23.4px;color:#f4f5f6;letter-spacing:0.00px;-webkit-text-stroke:0.3px #f4f5f6">-</span>
<span class="t" style="left:1185.00px;top:885.51px;font-size:23.4px;color:#f4f5f6;letter-spacing:0.00px;-webkit-text-stroke:0.3px #f4f5f6">-</span>
<span class="t" style="left:1382.50px;top:885.51px;font-size:23.4px;color:#4caf50;letter-spacing:0.80px;-webkit-text-stroke:0.3px #4caf50">0.89</span>
<span class="t" style="left:1577.75px;top:885.51px;font-size:23.4px;color:#4caf50;letter-spacing:0.80px;-webkit-text-stroke:0.3px #4caf50">+ 0.21</span>
<span class="t" style="left:1774.50px;top:867.81px;font-size:23.4px;color:#f4f5f6;letter-spacing:0.83px;-webkit-text-stroke:0.3px #f4f5f6">22.05.2021</span>
<span class="t" style="left:1775.25px;top:903.61px;font-size:23.4px;color:#3b8fe8;letter-spacing:1.39px;-webkit-text-stroke:0.3px #3b8fe8">Открыть</span>
<span class="t" style="left:10.75px;top:1067.75px;font-size:23.4px;color:#f4f5f6;letter-spacing:0.72px;-webkit-text-stroke:0.3px #f4f5f6">Field 139</span>
<span class="t" style="left:205.25px;top:1035.35px;font-size:23.4px;color:#f4f5f6;letter-spacing:0.86px;-webkit-text-stroke:0.3px #f4f5f6">Ukraine</span>
<span class="t" style="left:205.25px;top:1065.39px;font-size:21.4px;color:#8497aa;letter-spacing:0.82px;-webkit-text-stroke:0.3px #8497aa">Ivano-Frankivsk</span>
<span class="t" style="left:205.25px;top:1086.89px;font-size:21.4px;color:#8497aa;letter-spacing:0.92px;-webkit-text-stroke:0.3px #8497aa">Oblast</span>
<span class="t" style="left:205.25px;top:1108.39px;font-size:21.4px;color:#8497aa;letter-spacing:1.16px;-webkit-text-stroke:0.3px #8497aa">Kalus'kyi district</span>
<span class="t" style="left:401.25px;top:1050.05px;font-size:23.4px;color:#f4f5f6;letter-spacing:0.80px;-webkit-text-stroke:0.3px #f4f5f6">49.0571°N</span>
<span class="t" style="left:400.25px;top:1085.85px;font-size:23.4px;color:#f4f5f6;letter-spacing:0.80px;-webkit-text-stroke:0.3px #f4f5f6">24.2501°E</span>
<span class="t" style="left:596.20px;top:1067.75px;font-size:23.4px;color:#f4f5f6;letter-spacing:0.80px;-webkit-text-stroke:0.3px #f4f5f6">55.5 га</span>
<span class="t" style="left:791.50px;top:1067.75px;font-size:23.4px;color:#f4f5f6;letter-spacing:0.00px;-webkit-text-stroke:0.3px #f4f5f6">-</span>
<span class="t" style="left:988.00px;top:1067.75px;font-size:23.4px;color:#f4f5f6;letter-spacing:0.00px;-webkit-text-stroke:0.3px #f4f5f6">-</span>
<span class="t" style="left:1185.00px;top:1067.75px;font-size:23.4px;color:#f4f5f6;letter-spacing:0.00px;-webkit-text-stroke:0.3px #f4f5f6">-</span>
<span class="t" style="left:1382.50px;top:1067.75px;font-size:23.4px;color:#ee5350;letter-spacing:0.80px;-webkit-text-stroke:0.3px #ee5350">0.71</span>
<span class="t" style="left:1577.75px;top:1067.75px;font-size:23.4px;color:#ee5350;letter-spacing:0.80px;-webkit-text-stroke:0.3px #ee5350">-0.13</span>
<span class="t" style="left:1774.50px;top:1050.05px;font-size:23.4px;color:#f4f5f6;letter-spacing:0.83px;-webkit-text-stroke:0.3px #f4f5f6">21.05.2021</span>
<span class="t" style="left:1775.25px;top:1085.85px;font-size:23.4px;color:#3b8fe8;letter-spacing:1.39px;-webkit-text-stroke:0.3px #3b8fe8">Открыть</span>
<span class="t" style="left:10.75px;top:1249.99px;font-size:23.4px;color:#f4f5f6;letter-spacing:0.80px;-webkit-text-stroke:0.3px #f4f5f6">Field 140</span>
<span class="t" style="left:205.25px;top:1217.59px;font-size:23.4px;color:#f4f5f6;letter-spacing:0.86px;-webkit-text-stroke:0.3px #f4f5f6">Ukraine</span>
<span class="t" style="left:205.25px;top:1247.63px;font-size:21.4px;color:#8497aa;letter-spacing:0.82px;-webkit-text-stroke:0.3px #8497aa">Ivano-Frankivsk</span>
<span class="t" style="left:205.25px;top:1269.13px;font-size:21.4px;color:#8497aa;letter-spacing:0.92px;-webkit-text-stroke:0.3px #8497aa">Oblast</span>
<span class="t" style="left:205.25px;top:1290.63px;font-size:21.4px;color:#8497aa;letter-spacing:1.16px;-webkit-text-stroke:0.3px #8497aa">Kalus'kyi district</span>
<span class="t" style="left:401.25px;top:1232.29px;font-size:23.4px;color:#f4f5f6;letter-spacing:0.80px;-webkit-text-stroke:0.3px #f4f5f6">49.1039°N</span>
<span class="t" style="left:400.25px;top:1268.09px;font-size:23.4px;color:#f4f5f6;letter-spacing:0.80px;-webkit-text-stroke:0.3px #f4f5f6">24.1898°E</span>
<span class="t" style="left:596.20px;top:1249.99px;font-size:23.4px;color:#f4f5f6;letter-spacing:0.80px;-webkit-text-stroke:0.3px #f4f5f6">49.4 га</span>
<span class="t" style="left:792.20px;top:1232.29px;font-size:23.4px;color:#f4f5f6;letter-spacing:0.57px;-webkit-text-stroke:0.3px #f4f5f6">EOS Crop Monito</span>
<span class="t" style="left:792.20px;top:1268.09px;font-size:23.4px;color:#f4f5f6;letter-spacing:1.64px;-webkit-text-stroke:0.3px #f4f5f6">ring</span>
<span class="t" style="left:988.00px;top:1249.99px;font-size:23.4px;color:#f4f5f6;letter-spacing:0.00px;-webkit-text-stroke:0.3px #f4f5f6">-</span>
<span class="t" style="left:1185.00px;top:1249.99px;font-size:23.4px;color:#f4f5f6;letter-spacing:0.00px;-webkit-text-stroke:0.3px #f4f5f6">-</span>
<span class="t" style="left:1382.50px;top:1249.99px;font-size:23.4px;color:#ee5350;letter-spacing:0.80px;-webkit-text-stroke:0.3px #ee5350">0.50</span>
<span class="t" style="left:1577.75px;top:1249.99px;font-size:23.4px;color:#ee5350;letter-spacing:0.80px;-webkit-text-stroke:0.3px #ee5350">-0.02</span>
<span class="t" style="left:1774.50px;top:1232.29px;font-size:23.4px;color:#f4f5f6;letter-spacing:0.83px;-webkit-text-stroke:0.3px #f4f5f6">21.05.2021</span>
<span class="t" style="left:1775.25px;top:1268.09px;font-size:23.4px;color:#3b8fe8;letter-spacing:1.39px;-webkit-text-stroke:0.3px #3b8fe8">Открыть</span>
<span class="t" style="left:2290.60px;top:89.20px;font-size:25.4px;color:#c3ced9;letter-spacing:0.67px;-webkit-text-stroke:0.3px #c3ced9">Мониторинг</span>
<span class="t" style="left:2290.00px;top:169.00px;font-size:25.4px;color:#c3ced9;letter-spacing:0.37px;-webkit-text-stroke:0.3px #c3ced9">Погода</span>
<span class="t" style="left:2293.20px;top:220.78px;font-size:21.4px;color:#c3ced9;letter-spacing:1.16px;-webkit-text-stroke:0.3px #c3ced9">История</span>
<span class="t" style="left:2293.20px;top:256.78px;font-size:21.4px;color:#c3ced9;letter-spacing:1.51px;-webkit-text-stroke:0.3px #c3ced9">Прогноз</span>
<span class="t" style="left:2293.20px;top:292.98px;font-size:21.4px;color:#c3ced9;letter-spacing:1.22px;-webkit-text-stroke:0.3px #c3ced9">Метеостанции</span>
<span class="t" style="left:2291.60px;top:347.20px;font-size:25.4px;color:#c3ced9;letter-spacing:0.13px;-webkit-text-stroke:0.3px #c3ced9">Задачи</span>
<span class="t" style="left:2293.20px;top:399.48px;font-size:21.4px;color:#c3ced9;letter-spacing:1.09px;-webkit-text-stroke:0.3px #c3ced9">Новые (2)</span>
<span class="t" style="left:2293.20px;top:435.38px;font-size:21.4px;color:#c3ced9;letter-spacing:1.11px;-webkit-text-stroke:0.3px #c3ced9">Выполненные (1)</span>
<span class="t" style="left:2290.20px;top:490.10px;font-size:25.4px;color:#2f8ff0;letter-spacing:0.31px;-webkit-text-stroke:0.3px #2f8ff0">Рейтинг полей</span>
<span class="t" style="left:2291.60px;top:569.40px;font-size:25.4px;color:#c3ced9;letter-spacing:0.24px;-webkit-text-stroke:0.3px #c3ced9">Зонирование</span>
<span class="t" style="left:2293.20px;top:620.48px;font-size:21.4px;color:#c3ced9;letter-spacing:1.26px;-webkit-text-stroke:0.3px #c3ced9">Карта вегетации</span>
<span class="t" style="left:2293.20px;top:656.78px;font-size:21.4px;color:#c3ced9;letter-spacing:1.32px;-webkit-text-stroke:0.3px #c3ced9">Карта продуктивности</span>
<span class="t" style="left:2291.60px;top:712.30px;font-size:25.4px;color:#c3ced9;letter-spacing:-0.24px;-webkit-text-stroke:0.3px #c3ced9">Журнал работ</span>
<span class="t" style="left:2289.90px;top:791.00px;font-size:25.4px;color:#c3ced9;letter-spacing:0.28px;-webkit-text-stroke:0.3px #c3ced9">Менеджер данных</span>
<span class="t" style="left:2289.90px;top:1058.10px;font-size:25.4px;color:#c3ced9;letter-spacing:0.67px;-webkit-text-stroke:0.3px #c3ced9">Руководство</span>
<span class="t" style="left:2289.90px;top:1123.40px;font-size:25.4px;color:#c3ced9;letter-spacing:0.93px;-webkit-text-stroke:0.3px #c3ced9">Магазин</span>
<span class="t" style="left:2291.90px;top:1152.10px;font-size:25.4px;color:#c3ced9;letter-spacing:0.35px;-webkit-text-stroke:0.3px #c3ced9">дополнений</span>
<span class="t" style="left:2289.90px;top:1217.10px;font-size:25.4px;color:#c3ced9;letter-spacing:0.51px;-webkit-text-stroke:0.3px #c3ced9">Мой аккаунт</span>
<span class="t" style="left:2314.20px;top:1327.58px;font-size:22.7px;color:#3a96f5;letter-spacing:1.12px;-webkit-text-stroke:0.55px #3a96f5">ОБНОВИТЬ ПЛАН</span>
</div>
<svg width="2560" height="1393" viewBox="0 0 2560 1393" style="left:0;top:0">
<defs><linearGradient id="ss" x1="0" y1="0" x2="1" y2="0"><stop offset="0" stop-color="#000" stop-opacity=".22"/><stop offset="1" stop-color="#000" stop-opacity="0"/></linearGradient><linearGradient id="sb" x1="0" y1="0" x2="1" y2="0"><stop offset="0" stop-color="#686868"/><stop offset="0.45" stop-color="#828282"/><stop offset="1" stop-color="#7b7b7b"/></linearGradient></defs>
<rect x="2202.2" y="0" width="3" height="1393" fill="#151a1e"/>
<rect x="2204.8" y="0" width="7" height="1393" fill="url(#sb)"/><rect x="2211.8" y="0" width="16" height="1393" fill="url(#ss)"/>
<rect x="2235.2" y="18.1" width="32.7" height="3.6" fill="#fff"/>
<rect x="2235.2" y="27.2" width="32.7" height="3.6" fill="#fff"/>
<rect x="2235.2" y="36.2" width="32.7" height="3.6" fill="#fff"/>
<path transform="translate(2292.7 6.95) scale(1.815 1.82)" fill="#fff" d="M12 22c1.1 0 2-.9 2-2h-4c0 1.1.9 2 2 2zm6-6v-5c0-3.07-1.63-5.64-4.5-6.32V4c0-.83-.67-1.5-1.5-1.5s-1.5.67-1.5 1.5v.68C7.64 5.36 6 7.92 6 11v5l-2 2v1h16v-1l-2-2zm-2 1H8v-6c0-2.48 1.51-4.5 4-4.5s4 2.02 4 4.5v6z"/>
<rect x="2325.4" y="9" width="32.6" height="21.9" rx="6.5" fill="#2f8ff8" stroke="#212930" stroke-width="1.2"/>
<path transform="translate(2224.95 75.2) scale(2.217 2.26)" fill="#8fa2b6" d="M11.99 18.54l-7.37-5.73L3 14.07l9 7 9-7-1.63-1.27-7.38 5.74zM12 16l7.36-5.73L21 9l-9-7-9 7 1.63 1.27L12 16zm0-11.47L17.74 9 12 13.47 6.26 9 12 4.53z"/>
<g fill="none" stroke="#8fa2b6" stroke-width="4" stroke-linecap="round" stroke-linejoin="round"><path d="M2241.5 192 A9.6 9.6 0 0 1 2243.1 172.9 A12.1 12.1 0 0 1 2263.9 176.0 A8 8 0 0 1 2263.2 192 Z"/><path d="M2243.1 172.9 A9.6 9.6 0 0 1 2251.1 181.5"/></g>
<g fill="none" stroke="#8fa2b6" stroke-width="4" stroke-linejoin="round"><path d="M2251.5 377.3 C2243 366 2238.2 359.5 2238.2 352.4 A13.3 13.3 0 0 1 2264.8 352.4 C2264.8 359.5 2260 366 2251.5 377.3 Z"/><path d="M2247 358.3 L2255 350.3" stroke-width="4.2"/><path d="M2256.9 348.4 L2258.2 347.1" stroke-width="4.2"/></g>
<rect x="2235.2" y="512.8" width="3.8" height="5.0" fill="#2f8ff0"/>
<rect x="2242.4" y="509.2" width="3.8" height="8.6" fill="#2f8ff0"/>
<rect x="2249.6" y="504.9" width="3.8" height="12.9" fill="#2f8ff0"/>
<rect x="2257" y="500.6" width="3.8" height="17.2" fill="#2f8ff0"/>
<rect x="2264.3" y="497.7" width="3.8" height="20.1" fill="#2f8ff0"/>
<path d="M2236.5 501.8 C2246 499.5 2251 493 2257 489.5 S2264 487 2267.2 486.6" fill="none" stroke="#2f8ff0" stroke-width="4" stroke-linecap="round"/>
<g fill="none" stroke="#8fa2b6" stroke-width="3.6"><rect x="2237" y="566.2" width="9.7" height="29.1"/><rect x="2255.2" y="566.2" width="10.8" height="7.6"/><rect x="2255.2" y="582" width="10.8" height="13.3"/></g>
<g fill="#8fa2b6"><rect x="2231.9" y="707.2" width="39.2" height="38" rx="4.5"/><rect x="2238.5" y="702.2" width="4.4" height="7"/><rect x="2260" y="702.2" width="4.4" height="7"/></g>
<rect x="2236.6" y="718" width="29.8" height="22.4" fill="#212930"/>
<path d="M2242.4 729.5 L2248.1 734.6 L2260.3 723.6" fill="none" stroke="#a3b3c4" stroke-width="3.4"/>
<g fill="#8fa2b6"><path d="M2238.5 787.2 A12.9 4.4 0 0 1 2264.3 787.2 V806.6 A12.9 4.4 0 0 1 2238.5 806.6 Z"/><rect x="2249.6" y="809" width="3.8" height="11"/><rect x="2235.2" y="817.6" width="32.6" height="3.6"/><circle cx="2235.3" cy="819.4" r="3.7"/><circle cx="2251.5" cy="819.4" r="3.7"/><circle cx="2267.7" cy="819.4" r="3.7"/></g>
<g fill="none" stroke="#212930" stroke-width="2.5"><path d="M2237.5 791.8 A12.9 4.4 0 0 0 2265.3 791.8"/><path d="M2237.5 798.4 A12.9 4.4 0 0 0 2265.3 798.4"/><path d="M2237.5 805 A12.9 4.4 0 0 0 2265.3 805"/></g>
<circle cx="2251.5" cy="1070" r="17.9" fill="none" stroke="#8fa2b6" stroke-width="4"/><circle cx="2251.5" cy="1061.3" r="2.5" fill="#8fa2b6"/><rect x="2249.3" y="1066" width="4.4" height="13.2" fill="#8fa2b6"/>
<g fill="none" stroke="#8fa2b6" stroke-width="3.8"><path d="M2267.7 1146 V1133.2 H2231.8 V1158.1 H2259"/></g><rect x="2246.7" y="1158" width="7" height="6.5" fill="#8fa2b6"/><rect x="2242.4" y="1164.2" width="14.3" height="3.4" fill="#8fa2b6"/><rect x="2262.2" y="1148.6" width="9.4" height="17.4" fill="none" stroke="#8fa2b6" stroke-width="3.2"/>
<polygon points="2249.6,1140.2 2251.2,1144.6 2255.9,1144.8 2252.2,1147.6 2253.5,1152.1 2249.6,1149.5 2245.7,1152.1 2247.0,1147.6 2243.3,1144.8 2248.0,1144.6" fill="#8fa2b6"/>
<rect x="2478.9" y="1138.9" width="43.5" height="21.5" rx="3" fill="#4caf50"/>
<g fill="none" stroke="#8fa2b6" stroke-width="4"><circle cx="2251.6" cy="1228.6" r="16.2"/><circle cx="2251.6" cy="1224" r="4.6" stroke-width="3.4"/><path d="M2240.5 1240.5 Q2251.6 1230.5 2262.7 1240.5"/></g>
<rect x="2241.7" y="1294.7" width="304.6" height="84.9" rx="14" fill="none" stroke="#2f8ff0" stroke-width="2.4"/>
<g fill="#3a96f5"><path d="M2282.4 1320.7 L2291.4 1333.6 H2286.8 V1346 H2280.2 V1333.6 H2273.5 Z"/><rect x="2280.2" y="1347.6" width="6.6" height="1.9"/><rect x="2280.2" y="1351" width="6.6" height="2.3"/></g>
<rect x="1337.4" y="149.1" width="857.8" height="1213.7" fill="none" stroke="#f42a04" stroke-width="13.7"/>
<rect x="2203.5" y="471.5" width="343.2" height="75.3" fill="none" stroke="#f42a04" stroke-width="13.7"/>
<defs><filter id="cs" x="-30%" y="-30%" width="160%" height="160%" color-interpolation-filters="sRGB"><feGaussianBlur stdDeviation="5"/></filter></defs>
<circle cx="68.8" cy="1246" r="55" fill="#000" opacity=".28" filter="url(#cs)"/>
<circle cx="68.8" cy="1243" r="54.2" fill="#1f80e9"/>
<path d="M49.9 1214.8 H88.1 Q94.1 1214.8 94.1 1220.8 V1271.8 L78 1265 H49.9 Q43.4 1265 43.4 1258.5 V1221.3 Q43.4 1214.8 49.9 1214.8 Z" fill="#fff"/>
<path d="M51 1250.6 Q68.5 1262.5 86 1250.6" fill="none" stroke="#1f80e9" stroke-width="3" stroke-linecap="round"/>
<circle cx="108.6" cy="1205" r="19.7" fill="#d9272e"/>
</svg>
<div class="L">
<span class="t" style="left:2482.60px;top:1142.02px;font-size:16.4px;color:#ffffff;letter-spacing:0.52px;-webkit-text-stroke:0.7px #ffffff">New</span>
<span class="t" style="left:2332.80px;top:13.74px;font-size:14.6px;color:#ffffff;letter-spacing:0.20px;-webkit-text-stroke:0.5px #ffffff">+1</span>
<span class="t" style="left:102.60px;top:1195.75px;font-size:20.5px;color:#ffffff;letter-spacing:0.00px;-webkit-text-stroke:0.9px #ffffff">5</span>
</div>
</body></html>
